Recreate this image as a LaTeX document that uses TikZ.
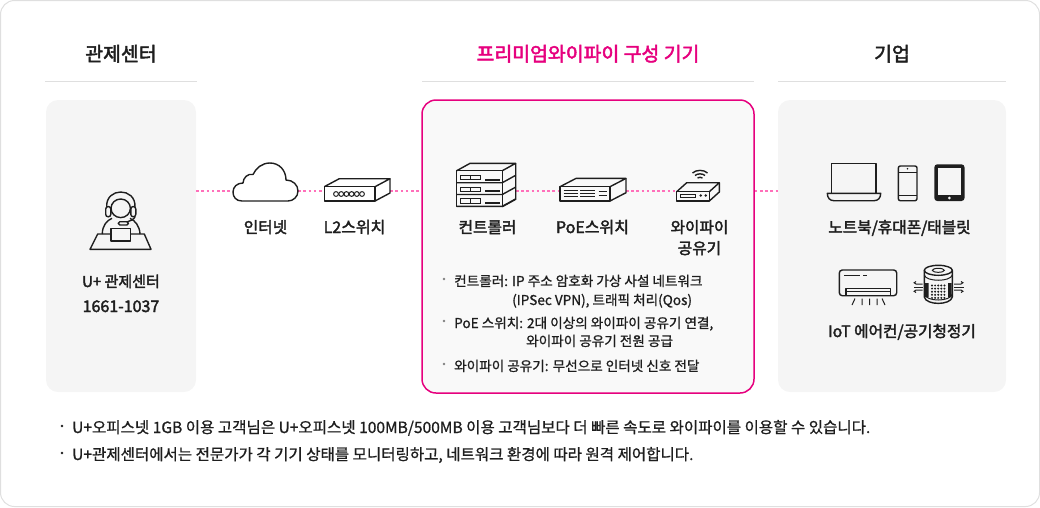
\documentclass[tikz,border=0pt]{standalone}
\usepackage{fontspec}
\setmainfont{Noto Sans CJK KR}
\newfontfamily\medfont[FakeBold=2.4]{Noto Sans CJK KR}
\newfontfamily\softfont[FakeBold=1]{Noto Sans CJK KR}
\usetikzlibrary{positioning}
\definecolor{pinkline}{HTML}{E6007E}
\definecolor{dotpink}{HTML}{FF70BA}
\definecolor{panelgray}{HTML}{F5F5F5}
\definecolor{rulegray}{HTML}{DFDFDF}
\definecolor{inkgray}{HTML}{1E1E1E}
% box with a top and a side face: x0 y0 x1 y1 dx dy
\newcommand{\boxicon}[6]{
  \draw[icon] (#1,#2) rectangle (#3,#4);
  \draw[icon] (#1,#2) -- ++(#5,-#6) -- ++(#3-#1,0) -- (#3,#2);
  \draw[icon] (#3+#5,#2-#6) -- (#3+#5,#4-#6) -- (#3,#4);
}
\begin{document}
\begin{tikzpicture}[
  x=1pt, y=-1pt,
  icon/.style={draw=inkgray, line width=1.4pt, line join=round},
  thin line/.style={draw=inkgray, line width=1pt},
  panel/.style={fill=panelgray, rounded corners=12pt, minimum width=150pt, inner sep=0pt},
  anchorbox/.style={inner sep=0pt, minimum height=20pt},
  link/.style={draw=dotpink, line width=1.9pt, dash pattern=on 2.6pt off 2.6pt},
  headrule/.style={draw=rulegray, line width=1pt},
  head/.style={font=\medfont\fontsize{19.4}{22}\selectfont, text=inkgray, inner sep=0pt, anchor=base},
  lbl/.style={font=\medfont\fontsize{15.7}{20}\selectfont, text=inkgray, inner sep=0pt, anchor=base},
  note/.style={font=\softfont\fontsize{13.6}{16}\selectfont, text=inkgray, inner sep=0pt, anchor=base west},
  foot/.style={font=\softfont\fontsize{15.55}{18}\selectfont, text=inkgray, inner sep=0pt, anchor=base west},
  bullet/.style={circle, fill=#1, inner sep=0pt, minimum size=2.8pt}
]
\useasboundingbox (0,0) rectangle (1040,507);
\draw[draw=rulegray, line width=1pt, rounded corners=14pt] (0.5,0.5) rectangle (1039.5,506.5);

% Panels
\node[panel, minimum height=292pt] (center) at (121,246) {};
\node[panel, fill=panelgray!60!white, draw=pinkline, line width=1.5pt, rounded corners=14pt,
      minimum width=332pt, minimum height=293pt] (premium) at (588,246.5) {};
\node[panel, minimum width=228pt, minimum height=292pt] (company) at (892,246) {};

% Headings
\node[head] (centerhead) at (121,61) {관제센터};
\node[head, text=pinkline] (premiumhead) at (588,61) {프리미엄와이파이 구성 기기};
\node[head] (companyhead) at (892,61) {기업};
\draw[headrule] (45,81) -- (197,81);
\draw[headrule] (422,81) -- (754,81);
\draw[headrule] (778,81) -- (1006,81);

% Anchors of the icons on the dotted line
\node[anchorbox, minimum width=65pt] (cloud) at (265.5,191) {};
\node[anchorbox, minimum width=66pt] (l2) at (357,191) {};
\node[anchorbox, minimum width=59pt] (ctrl) at (486.2,191) {};
\node[anchorbox, minimum width=66pt] (poe) at (592.8,191) {};
\node[anchorbox, minimum width=43pt] (wifi) at (698,191) {};

% Connectors
\draw[link] (center.east |- cloud.west) -- (cloud.west);
\draw[link] (cloud.east) -- (l2.west);
\draw[link] (l2.east) -- (premium.west |- l2.east);
\draw[link] (ctrl.east) -- (poe.west);
\draw[link] (poe.east) -- (wifi.west);
\draw[link] (premium.east |- wifi.east) -- (company.west |- wifi.east);

% Operator
\draw[icon] (111,234) -- (97.7,234) -- (90,249.3) -- (151,249.3) -- (144.3,234) -- (130.7,234);
\draw[icon] (111,228.3) rectangle (130.7,241);
\draw[icon] (102.3,234) .. controls (102.3,226) and (106.5,220.5) .. (112,218.3);
\draw[icon] (130,218.3) .. controls (135,220.5) and (139.7,226) .. (140,234);
\draw[icon] (120.7,208.3) ellipse (9.7pt and 9.3pt);
\draw[icon] (106.7,207) .. controls (105.5,187) and (136,187) .. (135,207);
\draw[icon, rounded corners=2.5pt] (105.7,206.5) rectangle (110.8,216.8);
\draw[icon, rounded corners=2.5pt] (130.8,206.5) rectangle (135.8,216.8);
\draw[icon] (135,216.8) .. controls (134,219.5) and (130,221) .. (127,222);
\draw[icon, rounded corners=1.5pt] (118.3,221.7) rectangle (128.3,225);

% Cloud
\draw[icon] (242,201) .. controls (236,201) and (233,197) .. (233,192)
  .. controls (233,187) and (237,183) .. (243,183)
  .. controls (243,178) and (248,173) .. (253,174.5)
  .. controls (256,168) and (262,163) .. (270,163)
  .. controls (279,163) and (286,170) .. (286,180)
  .. controls (293,180) and (298,185) .. (298,191)
  .. controls (298,197) and (293,201) .. (288,201) -- cycle;

% L2 switch
\boxicon{324.3}{186.7}{375}{201}{15}{8}
\foreach \i in {0,...,5}
  \draw[thin line] (336+5.2*\i,194) circle (2.4pt);

% Controller
\boxicon{456.7}{170.7}{502.3}{206.7}{13.4}{7.4}
\foreach \i in {0,1,2} {
  \draw[icon] (456.7,182.7+11.8*\i) -- (502.3,182.7+11.8*\i) -- (515.7,175.3+11.8*\i);
  \draw[thin line] (460.5,175.3+11.8*\i) rectangle (480.5,179.5+11.8*\i);
  \draw[thin line] (470.5,175.3+11.8*\i) -- (470.5,179.5+11.8*\i);
  \fill[inkgray] (485,178.6+11.8*\i) rectangle (500,180.6+11.8*\i);
}

% PoE switch
\boxicon{560}{186.7}{610}{201}{16}{8.3}
\foreach \y in {190,193.3,196.6} {
  \draw[thin line] (563.5,\y) -- (578,\y);
  \draw[thin line] (580,\y) -- (595,\y);
}
\draw[thin line] (598.5,191.5) -- (606.5,191.5);
\draw[thin line] (598.5,195) -- (606.5,195);

% Wi-Fi router
\boxicon{676.7}{191.7}{709.3}{201}{10}{9}
\draw[thin line] (680,194) rectangle (695,197.3);
\fill[inkgray] (700.7,195.5) circle (1.4pt) (705.8,195.5) circle (1.4pt);
\draw[icon] (692.5,173) .. controls (696,169.5) and (704,169.5) .. (707.5,173);
\draw[icon] (695,175.5) .. controls (697.5,173.3) and (702.5,173.3) .. (705,175.5);
\draw[icon] (697.5,178) .. controls (698.8,177) and (701.2,177) .. (702.5,178);

% Laptop, phone, tablet
\draw[icon] (831.7,193.3) -- (831.7,163.3) -- (876,163.3) -- (876,193.3);
\draw[icon] (827.3,193.3) -- (880.7,193.3) .. controls (880.7,198) and (878,200.7) .. (874,200.7)
  -- (834,200.7) .. controls (830,200.7) and (827.3,198) .. (827.3,193.3) -- cycle;
\draw[icon, rounded corners=2pt] (898.3,166) rectangle (917,200.7);
\draw[thin line] (898.3,172.3) -- (917,172.3) (898.3,195) -- (917,195);
\fill[inkgray] (907.5,168.7) circle (0.9pt);
\fill[inkgray, rounded corners=3pt] (934.3,164.3) rectangle (964.5,201);
\fill[panelgray] (938.3,167.5) rectangle (960.7,195);
\fill[panelgray] (949.4,198) circle (1.5pt);

% Air conditioner
\draw[icon, rounded corners=3pt] (839.3,270) rectangle (896.7,295.7);
\draw[icon] (844,275.7) -- (860,275.7) (863.3,275.7) -- (867.3,275.7);
\draw[icon] (846,295.7) -- (846,288.3) -- (890.7,288.3) -- (890.7,295.7);
\draw[thin line] (846,291.5) -- (890.7,291.5);
\draw[thin line] (852,305) -- (855,298.5) (862,298.5) -- (862,305) (869.5,298.5) -- (869.5,305)
  (877,298.5) -- (877,305) (882,298.5) -- (885,305);

% Air purifier
\draw[icon] (938.3,270.3) ellipse (14pt and 5pt);
\draw[thin line] (938.3,270.3) ellipse (6pt and 2pt);
\draw[icon] (924.3,270.3) -- (924.3,297) .. controls (926,305.5) and (950.6,305.5) .. (952.3,297) -- (952.3,270.3);
\draw[thin line] (924.3,275) .. controls (926,282) and (950.6,282) .. (952.3,275);
\draw[thin line] (924.3,294) .. controls (926,302) and (950.6,302) .. (952.3,294);
\fill[inkgray] (925,283) rectangle (928.5,297) (948.2,283) rectangle (951.7,297);
\foreach \i in {0,...,4} \foreach \j in {0,...,4}
  \fill[inkgray] (932+3.1*\i,285.5+3.1*\j) circle (1.1pt);
\draw[thin line] (922.5,287) -- (913.5,287);
\draw[thin line] (922.5,284) -- (916,284) .. controls (913.5,284) and (913.5,281.5) .. (916,281.5);
\draw[thin line] (922.5,290) -- (916,290) .. controls (913.5,290) and (913.5,292.5) .. (916,292.5);
\draw[thin line] (954,287) -- (963.5,287);
\draw[thin line] (954,284) -- (961,284) .. controls (963.5,284) and (963.5,281.5) .. (961,281.5);
\draw[thin line] (954,290) -- (961,290) .. controls (963.5,290) and (963.5,292.5) .. (961,292.5);

% Labels
\node[lbl] (centername) at (121,287) {\fontsize{15}{18}\selectfont U+ 관제센터};
\node[lbl] (centertel) at (121,312) {\fontsize{16}{18}\selectfont 1661-1037};
\node[lbl] (cloudname) at (265.5,233) {인터넷};
\node[lbl] (l2name) at (354.5,233) {\fontsize{16}{18}\selectfont L2스위치};
\node[lbl] (ctrlname) at (487.5,233) {컨트롤러};
\node[lbl] (poename) at (592.5,233) {\fontsize{16}{18}\selectfont PoE스위치};
\node[lbl] (wifiname) at (699.5,233) {와이파이};
\node[lbl] (wifiname2) at (699.5,254) {공유기};
\node[lbl] (devicename) at (899.5,233) {노트북/휴대폰/태블릿};
\node[lbl] (iotname) at (902,337) {IoT 에어컨/공기청정기};

% Notes inside the premium panel
\node[bullet=gray] (b1) at (444,279) {};
\node[note] (n1) at (454,286) {컨트롤러: IP 주소 암호화 가상 사설 네트워크};
\node[note] (n1b) at (512,305) {(IPSec VPN), 트래픽 처리(Qos)};
\node[bullet=gray] (b2) at (444,321) {};
\node[note] (n2) at (454,328) {PoE 스위치: 2대 이상의 와이파이 공유기 연결,};
\node[note] (n2b) at (526,346) {와이파이 공유기 전원 공급};
\node[bullet=gray] (b3) at (444,364) {};
\node[note] (n3) at (454,371) {와이파이 공유기: 무선으로 인터넷 신호 전달};

% Footnotes
\node[bullet=inkgray] (b4) at (62,426) {};
\node[foot] (f1) at (72,433) {U+오피스넷 1GB 이용 고객님은 U+오피스넷 100MB/500MB 이용 고객님보다 더 빠른 속도로 와이파이를 이용할 수 있습니다.};
\node[bullet=inkgray] (b5) at (62,453) {};
\node[foot] (f2) at (72,460) {U+관제센터에서는 전문가가 각 기기 상태를 모니터링하고, 네트워크 환경에 따라 원격 제어합니다.};
\end{tikzpicture}
\end{document}
